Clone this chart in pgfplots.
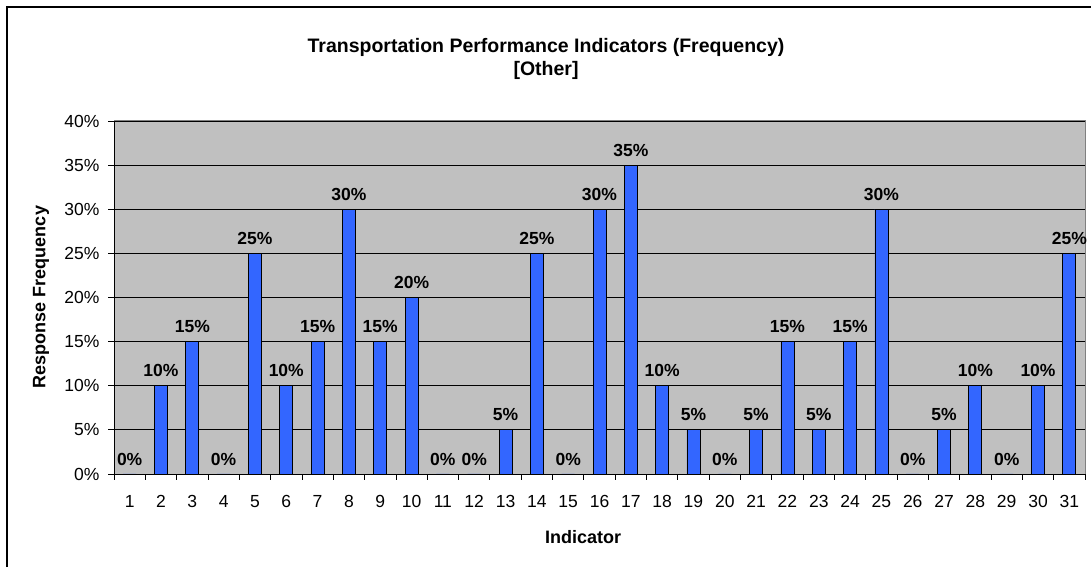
\documentclass[border=0pt]{standalone}
\usepackage{fontspec}
\setmainfont{Liberation Sans}
\usepackage{pgfplots}
\pgfplotsset{compat=1.18}
\definecolor{barblue}{HTML}{3366FF}
\definecolor{plotgray}{HTML}{C0C0C0}
\definecolor{bordergray}{HTML}{808080}
\begin{document}
\begin{tikzpicture}[x=1pt,y=1pt]
\useasboundingbox (0,0) rectangle (1091,567);
\draw[line width=1.5pt] (7,0) -- (7,560) -- (1091,560);
\node[font=\bfseries\fontsize{19.5}{23}\selectfont, align=center] at (546,508) {Transportation Performance Indicators (Frequency)\\{}[Other]};
\begin{axis}[
  at={(114pt,93pt)}, anchor=south west,
  width=971pt, height=353pt, scale only axis,
  xmin=0.5, xmax=31.5, ymin=0, ymax=40,
  ybar, bar width=13pt,
  axis background/.style={fill=plotgray},
  axis x line*=bottom, axis y line*=left,
  axis line style={black, line width=0.8pt},
  /pgf/number format/assume math mode=true,
  tick label style={font=\fontsize{17.5}{20}\selectfont, black},
  yticklabel style={xshift=-5pt},
  xticklabel style={yshift=-12pt},
  ytick={0,5,...,40},
  yticklabel={\pgfmathprintnumber{\tick}\%},
  ymajorgrids,
  major grid style={black, line width=0.8pt},
  tick align=outside, major tick length=6pt,
  ytick style={black, line width=0.8pt},
  xtick={1,...,31}, xtick style={draw=none},
  extra x ticks={0.5,1.5,...,31.5}, extra x tick labels={},
  extra x tick style={xtick style={draw=black, line width=0.8pt}, grid=none},
  nodes near coords={\pgfmathprintnumber{\pgfplotspointmeta}\%},
  every node near coord/.append style={font=\bfseries\fontsize{17.5}{20}\selectfont, black, yshift=5pt},
  clip=false,
]
\addplot[fill=barblue, draw=black, line width=0.8pt] coordinates {
(1,0) (2,10) (3,15) (4,0) (5,25) (6,10) (7,15) (8,30) (9,15) (10,20)
(11,0) (12,0) (13,5) (14,25) (15,0) (16,30) (17,35) (18,10) (19,5) (20,0)
(21,5) (22,15) (23,5) (24,15) (25,30) (26,0) (27,5) (28,10) (29,0) (30,10) (31,25)
};
\draw[bordergray, line width=1pt] (rel axis cs:0,1) -- (rel axis cs:1,1) -- (rel axis cs:1,0);
\end{axis}
\node[font=\bfseries\fontsize{18}{20}\selectfont] at (583,30) {Indicator};
\node[font=\bfseries\fontsize{18}{20}\selectfont, rotate=90] at (41,270) {Response Frequency};
\end{tikzpicture}
\end{document}
